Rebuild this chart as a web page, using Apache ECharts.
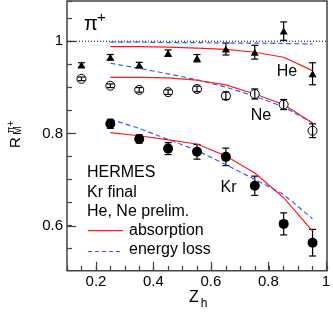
<!DOCTYPE html>
<html>
<head>
<meta charset="utf-8">
<script src="https://cdn.jsdelivr.net/npm/echarts@6/dist/echarts.min.js"></script>
<style>
  html, body { margin: 0; padding: 0; background: #fff; }
  #chart { width: 333px; height: 322px; }
</style>
</head>
<body>
<div id="chart"></div>
<script>
  // z_h bins of the data points
  var zhAll = [0.15, 0.25, 0.35, 0.45, 0.55, 0.65, 0.75, 0.85, 0.95];
  var zhKr = [0.25, 0.35, 0.45, 0.55, 0.65, 0.75, 0.85, 0.95];
  // z_h of the model curves
  var zhModel = [0.25, 0.35, 0.45, 0.55, 0.65, 0.75, 0.85, 0.95];

  // measured R_M (value, error)
  var heVal = [0.948, 0.965, 0.948, 0.974, 0.963, 0.983, 0.976, 1.022, 0.929];
  var heErr = [0.005, 0.006, 0.006, 0.007, 0.008, 0.013, 0.015, 0.020, 0.024];
  var neVal = [0.918, 0.903, 0.894, 0.889, 0.896, 0.881, 0.885, 0.862, 0.805];
  var neErr = [0.004, 0.004, 0.005, 0.005, 0.006, 0.008, 0.011, 0.011, 0.015];
  var krVal = [0.820, 0.787, 0.766, 0.759, 0.748, 0.685, 0.602, 0.561];
  var krErr = [0.010, 0.009, 0.013, 0.016, 0.019, 0.021, 0.024, 0.029];

  // model curves
  var heAbs = [0.988, 0.988, 0.987, 0.985, 0.982, 0.976, 0.965, 0.936];
  var heEloss = [0.998, 0.998, 0.997, 0.997, 0.996, 0.996, 0.995, 0.994];
  var neAbs = [0.921, 0.921, 0.920, 0.915, 0.905, 0.885, 0.862, 0.822];
  var neEloss = [0.952, 0.941, 0.929, 0.916, 0.900, 0.880, 0.857, 0.822];
  var krAbs = [0.801, 0.794, 0.785, 0.776, 0.750, 0.713, 0.659, 0.586];
  var krEloss = [0.830, 0.810, 0.786, 0.762, 0.731, 0.699, 0.666, 0.613];

  // R = 1 reference
  var unityX = [0.1, 1.0];
  var unityY = [1, 1];

  var FONT = 'Liberation Sans, Arial, sans-serif';
  var RED = '#ff1a1a';
  var BLUE = '#3a5cff';
  var FRAME = '#444';

  function pairs(xs, ys) {
    return xs.map(function (x, i) { return [x, ys[i]]; });
  }
  function errData(xs, ys, es) {
    return xs.map(function (x, i) { return [x, ys[i], es[i]]; });
  }

  // error bar with caps
  function renderErr(params, api) {
    var x = api.value(0), y = api.value(1), e = api.value(2);
    var lo = api.coord([x, y - e]);
    var hi = api.coord([x, y + e]);
    var w = 3.5;
    var st = { stroke: '#000', lineWidth: 1.2 };
    return {
      type: 'group',
      children: [
        { type: 'line', shape: { x1: lo[0], y1: lo[1], x2: hi[0], y2: hi[1] }, style: st },
        { type: 'line', shape: { x1: lo[0] - w, y1: lo[1], x2: lo[0] + w, y2: lo[1] }, style: st },
        { type: 'line', shape: { x1: hi[0] - w, y1: hi[1], x2: hi[0] + w, y2: hi[1] }, style: st }
      ]
    };
  }

  function curve(ys, color, dashed) {
    return {
      type: 'line', xAxisIndex: 0, yAxisIndex: 0,
      data: pairs(zhModel, ys), symbol: 'none', silent: true,
      lineStyle: { color: color, width: 1.2, type: dashed ? [5, 3] : 'solid' }
    };
  }
  function errSeries(xs, ys, es, z) {
    return {
      type: 'custom', xAxisIndex: 0, yAxisIndex: 0,
      data: errData(xs, ys, es), renderItem: renderErr, silent: true, z: z
    };
  }

  var myChart = echarts.init(document.getElementById('chart'), null, { renderer: 'canvas' });

  var option = {
    animation: false,
    backgroundColor: '#fff',
    textStyle: { fontFamily: FONT },
    grid: [
      { left: 67, right: 6, top: 1, bottom: 51.3, show: true, borderColor: FRAME, borderWidth: 1.5, backgroundColor: 'transparent' },
      // second grid only for the long labelled ticks
      { left: 96, right: 6, top: 41.3, bottom: 96 }
    ],
    xAxis: [
      {
        type: 'value', gridIndex: 0, min: 0.1, max: 1.0, interval: 0.05,
        axisLine: { show: false }, splitLine: { show: false },
        axisTick: { show: true, inside: true, length: 5, lineStyle: { color: FRAME, width: 1.2 } },
        axisLabel: { show: false }
      },
      {
        type: 'value', gridIndex: 1, min: 0.2, max: 1.0, interval: 0.2, offset: 44.7,
        axisLine: { show: false }, splitLine: { show: false },
        axisTick: { show: true, inside: true, length: 9, lineStyle: { color: FRAME, width: 1.2 } },
        axisLabel: { show: true, margin: 4, fontSize: 15, color: '#000', fontFamily: FONT,
          formatter: function (v) { return v === 1 ? '1' : v.toFixed(1); } }
      }
    ],
    yAxis: [
      {
        type: 'value', gridIndex: 0, min: 0.5, max: 1.0876, interval: 0.05,
        axisLine: { show: false }, splitLine: { show: false },
        axisTick: { show: true, inside: true, length: 5, lineStyle: { color: FRAME, width: 1.2 } },
        axisLabel: { show: false }
      },
      {
        type: 'value', gridIndex: 1, min: 0.6, max: 1.0, interval: 0.2, offset: 29,
        axisLine: { show: false }, splitLine: { show: false },
        axisTick: { show: true, inside: true, length: 9, lineStyle: { color: FRAME, width: 1.2 } },
        axisLabel: { show: true, margin: 4, fontSize: 15, color: '#000', fontFamily: FONT,
          formatter: function (v) { return v === 1 ? '1' : v.toFixed(1); } }
      }
    ],
    series: [
      {
        type: 'line', xAxisIndex: 0, yAxisIndex: 0, data: pairs(unityX, unityY),
        symbol: 'none', silent: true, lineStyle: { color: '#000', width: 1, type: [1, 2] }
      },
      curve(heEloss, BLUE, true),
      curve(heAbs, RED, false),
      curve(neEloss, BLUE, true),
      curve(neAbs, RED, false),
      curve(krEloss, BLUE, true),
      curve(krAbs, RED, false),
      errSeries(zhAll, heVal, heErr, 3),
      {
        type: 'scatter', xAxisIndex: 0, yAxisIndex: 0, data: pairs(zhAll, heVal), z: 4,
        symbol: 'triangle', symbolSize: [8, 7], itemStyle: { color: '#000', opacity: 1 }
      },
      // open Ne circles sit under their bars, so the bar shows through
      {
        type: 'scatter', xAxisIndex: 0, yAxisIndex: 0, data: pairs(zhAll, neVal), z: 3,
        symbol: 'circle', symbolSize: 9, itemStyle: { color: '#fff', borderColor: '#000', borderWidth: 1, opacity: 1 }
      },
      errSeries(zhAll, neVal, neErr, 4),
      errSeries(zhKr, krVal, krErr, 3),
      {
        type: 'scatter', xAxisIndex: 0, yAxisIndex: 0, data: pairs(zhKr, krVal), z: 4,
        symbol: 'circle', symbolSize: 10, itemStyle: { color: '#000', opacity: 1 }
      }
    ],
    graphic: [
      // pi+ label
      { type: 'text', left: 84, top: 14, style: { text: 'π', font: '20px ' + FONT, fill: '#000' } },
      { type: 'text', left: 97, top: 10, style: { text: '+', font: '15px ' + FONT, fill: '#000' } },
      // nucleus labels
      { type: 'text', x: 287, y: 72, style: { text: 'He', font: '16px ' + FONT, fill: '#000', align: 'center', verticalAlign: 'middle' } },
      { type: 'text', x: 261, y: 115.5, style: { text: 'Ne', font: '16px ' + FONT, fill: '#000', align: 'center', verticalAlign: 'middle' } },
      { type: 'text', x: 228.5, y: 188, style: { text: 'Kr', font: '16px ' + FONT, fill: '#000', align: 'center', verticalAlign: 'middle' } },
      // legend
      { type: 'text', x: 87, y: 173, style: { text: 'HERMES', font: '16px ' + FONT, fill: '#000', verticalAlign: 'middle' } },
      { type: 'text', x: 87, y: 192.5, style: { text: 'Kr final', font: '16px ' + FONT, fill: '#000', verticalAlign: 'middle' } },
      { type: 'text', x: 87, y: 211.5, style: { text: 'He, Ne prelim.', font: '16px ' + FONT, fill: '#000', verticalAlign: 'middle' } },
      { type: 'line', shape: { x1: 88, y1: 230.7, x2: 123, y2: 230.7 }, style: { stroke: RED, lineWidth: 1.2 } },
      { type: 'text', x: 129, y: 230.5, style: { text: 'absorption', font: '16px ' + FONT, fill: '#000', verticalAlign: 'middle' } },
      { type: 'line', shape: { x1: 88, y1: 251.5, x2: 123, y2: 251.5 }, style: { stroke: BLUE, lineWidth: 1.2, lineDash: [4, 3] } },
      { type: 'text', x: 129, y: 250, style: { text: 'energy loss', font: '16px ' + FONT, fill: '#000', verticalAlign: 'middle' } },
      // x axis title Z_h
      { type: 'text', x: 194, y: 297.5, style: { text: 'Z', font: '16px ' + FONT, fill: '#000', align: 'center', verticalAlign: 'middle' } },
      { type: 'text', x: 204, y: 304, style: { text: 'h', font: '12px ' + FONT, fill: '#000', align: 'center', verticalAlign: 'middle' } },
      // y axis title R_M^{pi+}
      { type: 'text', x: 16, y: 142.5, rotation: Math.PI / 2, style: { text: 'R', font: '15px ' + FONT, fill: '#000', align: 'center', verticalAlign: 'middle' } },
      { type: 'text', x: 18.5, y: 130.5, rotation: Math.PI / 2, style: { text: 'M', font: '10px ' + FONT, fill: '#000', align: 'center', verticalAlign: 'middle' } },
      { type: 'text', x: 11.5, y: 127, rotation: Math.PI / 2, style: { text: 'π+', font: '10px ' + FONT, fill: '#000', align: 'center', verticalAlign: 'middle' } }
    ]
  };

  myChart.setOption(option);
</script>
</body>
</html>
